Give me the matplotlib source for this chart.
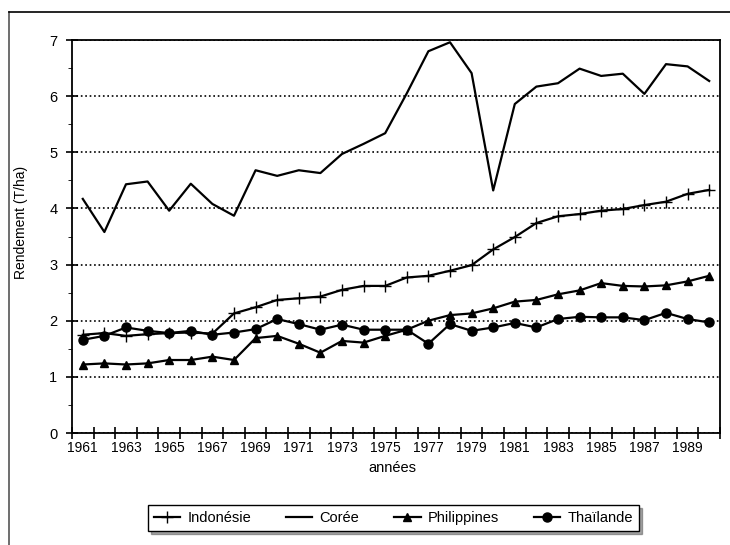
import matplotlib
matplotlib.use("Agg")
from matplotlib import pyplot as plt
from matplotlib.lines import Line2D

plt.rcParams['font.family'] = ['Liberation Sans', 'DejaVu Sans']

years = list(range(1961, 1991))

indonesie = [1.75, 1.78, 1.73, 1.76, 1.78, 1.79, 1.77, 2.13, 2.24, 2.37,
             2.40, 2.43, 2.55, 2.62, 2.62, 2.77, 2.80, 2.89, 2.99, 3.27,
             3.49, 3.74, 3.86, 3.90, 3.96, 3.99, 4.06, 4.12, 4.26, 4.33]
coree = [4.17, 3.58, 4.43, 4.48, 3.96, 4.44, 4.08, 3.87, 4.68, 4.58,
         4.68, 4.63, 4.97, 5.15, 5.34, 6.05, 6.80, 6.96, 6.41, 4.32,
         5.86, 6.17, 6.23, 6.49, 6.36, 6.40, 6.04, 6.57, 6.53, 6.27]
philippines = [1.22, 1.24, 1.22, 1.24, 1.30, 1.30, 1.36, 1.30, 1.69, 1.73,
               1.59, 1.43, 1.64, 1.61, 1.73, 1.84, 2.00, 2.10, 2.13, 2.22,
               2.34, 2.37, 2.47, 2.54, 2.67, 2.62, 2.61, 2.63, 2.70, 2.80]
thailande = [1.66, 1.73, 1.88, 1.82, 1.78, 1.82, 1.75, 1.79, 1.85, 2.03,
             1.94, 1.84, 1.93, 1.84, 1.84, 1.84, 1.59, 1.94, 1.82, 1.88,
             1.96, 1.88, 2.03, 2.07, 2.06, 2.06, 2.01, 2.14, 2.03, 1.97]

fig = plt.figure(figsize=(7.3, 5.45), dpi=100)
ax = fig.add_axes([0.0986, 0.2055, 0.8877, 0.7211])

ax.plot(years, indonesie, color='black', marker='+', markersize=8, lw=1.6, label='Indonésie')
ax.plot(years, coree, color='black', lw=1.6, label='Corée')
ax.plot(years, philippines, color='black', marker='^', markersize=6, lw=1.6, label='Philippines')
ax.plot(years, thailande, color='black', marker='o', markersize=6.5, lw=1.6, label='Thaïlande')

ax.set_xlim(1960.5, 1990.5)
ax.set_ylim(0, 7)

# labels on odd years, tick marks on category boundaries
ax.set_xticks(years[::2])
ax.set_xticklabels([str(y) for y in years[::2]], fontsize=10)
ax.set_xticks([y - 0.5 for y in years] + [1990.5], minor=True)
ax.tick_params(axis='x', which='major', length=0, pad=6)
ax.tick_params(axis='x', which='minor', direction='inout', length=9, width=1.2)

ax.set_yticks(range(0, 8))
ax.set_yticks([i + 0.5 for i in range(7)], minor=True)
ax.tick_params(axis='y', which='major', direction='inout', length=9, width=1.2, labelsize=10.5, pad=6)
ax.tick_params(axis='y', which='minor', direction='out', length=3)

ax.yaxis.grid(True, linestyle=':', color='black', lw=1.2)
for s in ax.spines.values():
    s.set_linewidth(1.3)

ax.set_ylabel("Rendement (T/ha)", fontsize=10)
ax.yaxis.set_label_coords(-0.068, 0.537)
ax.set_xlabel("années", fontsize=10.5)
ax.xaxis.set_label_coords(0.494, -0.072)

# outer frame of the scanned figure
fig.add_artist(Line2D([0.0123, 0.0123], [0, 0.978], color='#555555', lw=1.2))
fig.add_artist(Line2D([0.0123, 1], [0.978, 0.978], color='black', lw=1.2))

fig.legend(loc='center', bbox_to_anchor=(0.539, 0.0495), ncol=4, fontsize=10.5,
           frameon=True, fancybox=False, shadow=True, edgecolor='black',
           handlelength=1.8, handletextpad=0.5, columnspacing=2.4, borderpad=0.4)

fig.savefig("out.png", dpi=100)
